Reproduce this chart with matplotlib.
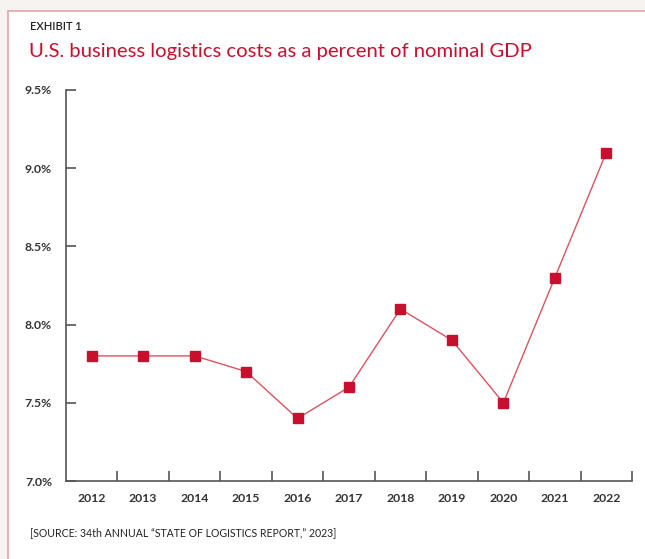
import matplotlib
matplotlib.use("Agg")
import matplotlib.pyplot as plt
from matplotlib.patches import Rectangle

years = ["2012", "2013", "2014", "2015", "2016", "2017", "2018", "2019", "2020", "2021", "2022"]
pct = [7.8, 7.8, 7.8, 7.7, 7.4, 7.6, 8.1, 7.9, 7.5, 8.3, 9.1]
yticks = [7.0, 7.5, 8.0, 8.5, 9.0, 9.5]

red = "#c8102e"
axis_col = "#555555"
plt.rcParams["font.family"] = ["Lato", "DejaVu Sans"]

fig = plt.figure(figsize=(6.45, 5.59), dpi=100)
fig.patch.set_facecolor("#f7f3f0")
# white panel with pink frame, running off the right and bottom edges
fig.patches.append(Rectangle((8 / 645, -0.05), 1.1, 1 - 11 / 559 + 0.05,
                             transform=fig.transFigure, facecolor="white",
                             edgecolor="#e3a3ab", linewidth=1.2, zorder=-5))

ax = fig.add_axes([66 / 645, 1 - 481 / 559, (632 - 66) / 645, (481 - 90) / 559])
ax.set_facecolor("none")
ax.set_zorder(2)
x = list(range(len(years)))
ax.plot(x, pct, color="#d9545f", linewidth=1.0, zorder=2)
ax.plot(x, pct, linestyle="none", marker="s", markersize=7.5,
        color=red, zorder=3)

ax.set_xlim(-0.5, len(years) - 0.5)
ax.set_ylim(7.0, 9.5)
for s in ["top", "right"]:
    ax.spines[s].set_visible(False)
for s in ["left", "bottom"]:
    ax.spines[s].set_color(axis_col)
    ax.spines[s].set_linewidth(1.2)

ax.set_yticks(yticks)
ax.set_yticklabels(["%.1f%%" % v for v in yticks])
ax.set_xticks([i + 0.5 for i in x])
ax.set_xticklabels([])
ax.set_xticks(x, minor=True)
ax.set_xticklabels(years, minor=True)
ax.tick_params(axis="x", which="major", direction="in", length=7, width=1.2,
               color=axis_col)
ax.tick_params(axis="x", which="minor", length=0, pad=9,
               labelsize=8.8, labelcolor="#333333")
ax.tick_params(axis="y", direction="in", length=7, width=1.2, color=axis_col,
               pad=10, labelsize=8.8, labelcolor="#333333")
for lab in ax.get_xticklabels(minor=True) + ax.get_yticklabels():
    lab.set_fontweight("bold")

fig.text(30 / 645, 1 - 27 / 559, "EXHIBIT 1", fontsize=8, color="#222222",
         fontweight="semibold", va="center", ha="left")
fig.text(29 / 645, 1 - 52 / 559, "U.S. business logistics costs as a percent of nominal GDP",
         fontsize=14.6, color=red, va="center", ha="left")
fig.text(30 / 645, 1 - 533 / 559, "[SOURCE: 34th ANNUAL \u201cSTATE OF LOGISTICS REPORT,\u201d 2023]",
         fontsize=7.6, color="#222222", va="center", ha="left")

fig.savefig("out.png", dpi=100, facecolor=fig.get_facecolor())
